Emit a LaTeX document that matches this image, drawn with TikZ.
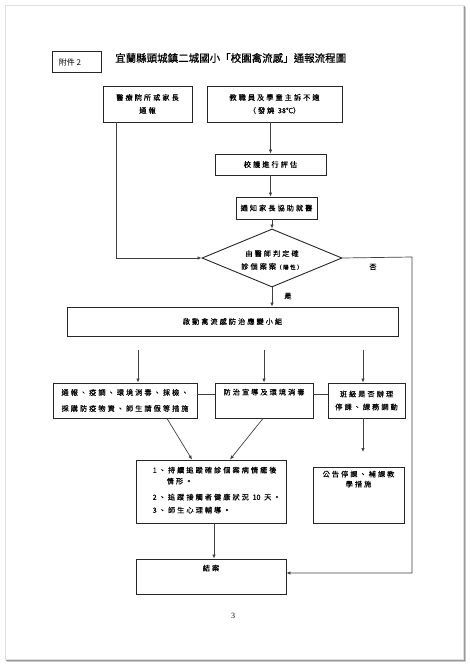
\documentclass[tikz,border=0pt]{standalone}
\usepackage{fontspec}
\setmainfont{Liberation Serif}
\newfontfamily\cjk[LetterSpace=28,FakeBold=0.4]{Noto Sans CJK TC}
\newfontfamily\cjkt[FakeBold=0.7]{Noto Sans CJK TC}
\newfontfamily\cjkr{Noto Sans CJK TC}
\newfontfamily\cjkn[FakeBold=0.4]{Noto Sans CJK TC}
\usetikzlibrary{shapes.geometric,arrows.meta}
\begin{document}
\begin{tikzpicture}[x=1pt,y=-1pt,
  box/.style={draw=black!85,line width=0.9pt,rectangle,inner sep=0pt},
  lbl/.style={font=\cjk\fontsize{7.2}{13}\selectfont,align=center,inner sep=0pt},
  conn/.style={draw=black!75,line width=0.7pt},
  arr/.style={conn,-{Latex[length=4pt,width=3.5pt]}}]
\useasboundingbox (0,0) rectangle (469,664);
% page frame
\draw[gray!25,line width=0.6pt] (5,5) rectangle (463,659);
\draw[gray!45,line width=2.4pt] (465,7) -- (465,661) -- (7,661);
\draw[gray!80,line width=1pt] (464,6) -- (464,660) -- (6,660);
% header
\node[box,minimum width=49,minimum height=21,
  label={[lbl,font=\cjkr\fontsize{8}{9}\selectfont,anchor=west,xshift=7pt]west:附件 2}] (fj) at (76.5,62) {};
\node[font=\cjkt\fontsize{10.5}{12}\selectfont,anchor=west,inner sep=0pt] (title) at (115,58) {宜蘭縣頭城鎮二城國小「校園禽流感」通報流程圖};
% boxes
\node[box,lbl,minimum width=89,minimum height=36] (A) at (147.5,104) {醫療院所或家長\\通報};
\node[box,lbl,minimum width=135,minimum height=36] (B) at (274.5,104) {教職員及學童主訴不適\\（發燒 {\cjkn 38℃}）};
\node[box,lbl,minimum width=111,minimum height=21] (C) at (270.5,164.5) {校護進行評估};
\node[box,lbl,minimum width=81,minimum height=22] (D) at (276.5,208) {通知家長協助就醫};
\node[draw=black!85,line width=0.9pt,diamond,inner sep=0pt,minimum width=140,minimum height=58,
  label={[lbl,yshift=-2pt]center:由醫師判定確\\診個案案{\fontsize{5.5}{6}\selectfont（陽性）}}] (Dia) at (272,258) {};
\node[box,lbl,minimum width=331,minimum height=29] (E) at (232.5,321.5) {啟動禽流感防治應變小組};
\node[box,lbl,minimum width=144,minimum height=35] (F1) at (125,400.5) {通報、疫調、環境消毒、採檢、\\[3pt]採購防疫物資、師生請假等措施};
\node[box,minimum width=98,minimum height=35,
  label={[lbl,anchor=north,yshift=-6pt]north:防治宣導及環境消毒}] (F2) at (264,400.5) {};
\node[box,lbl,minimum width=77,minimum height=35] (F3) at (366.5,400.5) {班級是否辦理\\停課、課務調動};
\node[box,minimum width=150,minimum height=63,
  label={[lbl,font=\cjk\fontsize{7.2}{11}\selectfont,align=left,anchor=north west,xshift=17pt,yshift=-7pt]north west:1、持續追蹤確診個案病情癒後\\\hspace{14pt}情形。\\[5pt]2、追蹤接觸者健康狀況 {\cjkn 10} 天。\\[2pt]3、師生心理輔導。}] (G1) at (211,491.5) {};
\node[box,minimum width=91,minimum height=56,
  label={[lbl,font=\cjk\fontsize{7.2}{10}\selectfont,anchor=north,yshift=-4pt]north:公告停課、補課教\\學措施}] (G2) at (358.5,495) {};
\node[box,minimum width=150,minimum height=35,
  label={[lbl,anchor=north,yshift=-6pt]north:結案}] (H) at (211,576.5) {};
% connectors
\draw[arr] ([xshift=14pt]A.south west) |- (Dia.west);
\draw[arr] (C.north |- B.south) -- (C.north);
\draw[arr] (C.south) -- (C.south |- D.north);
\draw[arr] (D.south -| Dia.north) -- (Dia.north);
\draw[arr] (Dia.south) -- (Dia.south |- E.north) node[lbl,pos=0.45,right=12pt] (yes) {是};
\coordinate (rt) at (412,257);
\coordinate (rb) at (412,573);
\draw[arr] (Dia.east) -- (rt) -- (rb) -- ([yshift=3.5pt]H.east);
\node[lbl] (no) at (373,267) {否};
\coordinate (s1) at (138,350);
\coordinate (s2) at (264,350);
\coordinate (s3) at (363,350);
\draw[arr] (s1) -- (s1 |- F1.north);
\draw[arr] (s2) -- (s2 |- F2.north);
\draw[arr] (s3) -- (s3 |- F3.north);
\draw[conn] ([yshift=6.5pt]F1.east) -- ([yshift=6.5pt]F2.west);
\draw[conn] ([yshift=6.5pt]F2.east) -- ([yshift=6.5pt]F3.west);
\draw[arr] ([xshift=42pt]F1.south) -- ([xshift=-19pt]G1.north);
\draw[arr] ([xshift=-1pt]F2.south) -- ([xshift=19pt]G1.north);
\coordinate (g2a) at (363,452);
\draw[arr] (F3.south -| s3) -- (g2a);
\draw[arr] ([xshift=3pt]G1.south) -- ([xshift=3pt]H.north);
\node[font=\fontsize{8}{9}\selectfont,inner sep=0pt] (pg) at (233,616) {3};
\end{tikzpicture}
\end{document}
